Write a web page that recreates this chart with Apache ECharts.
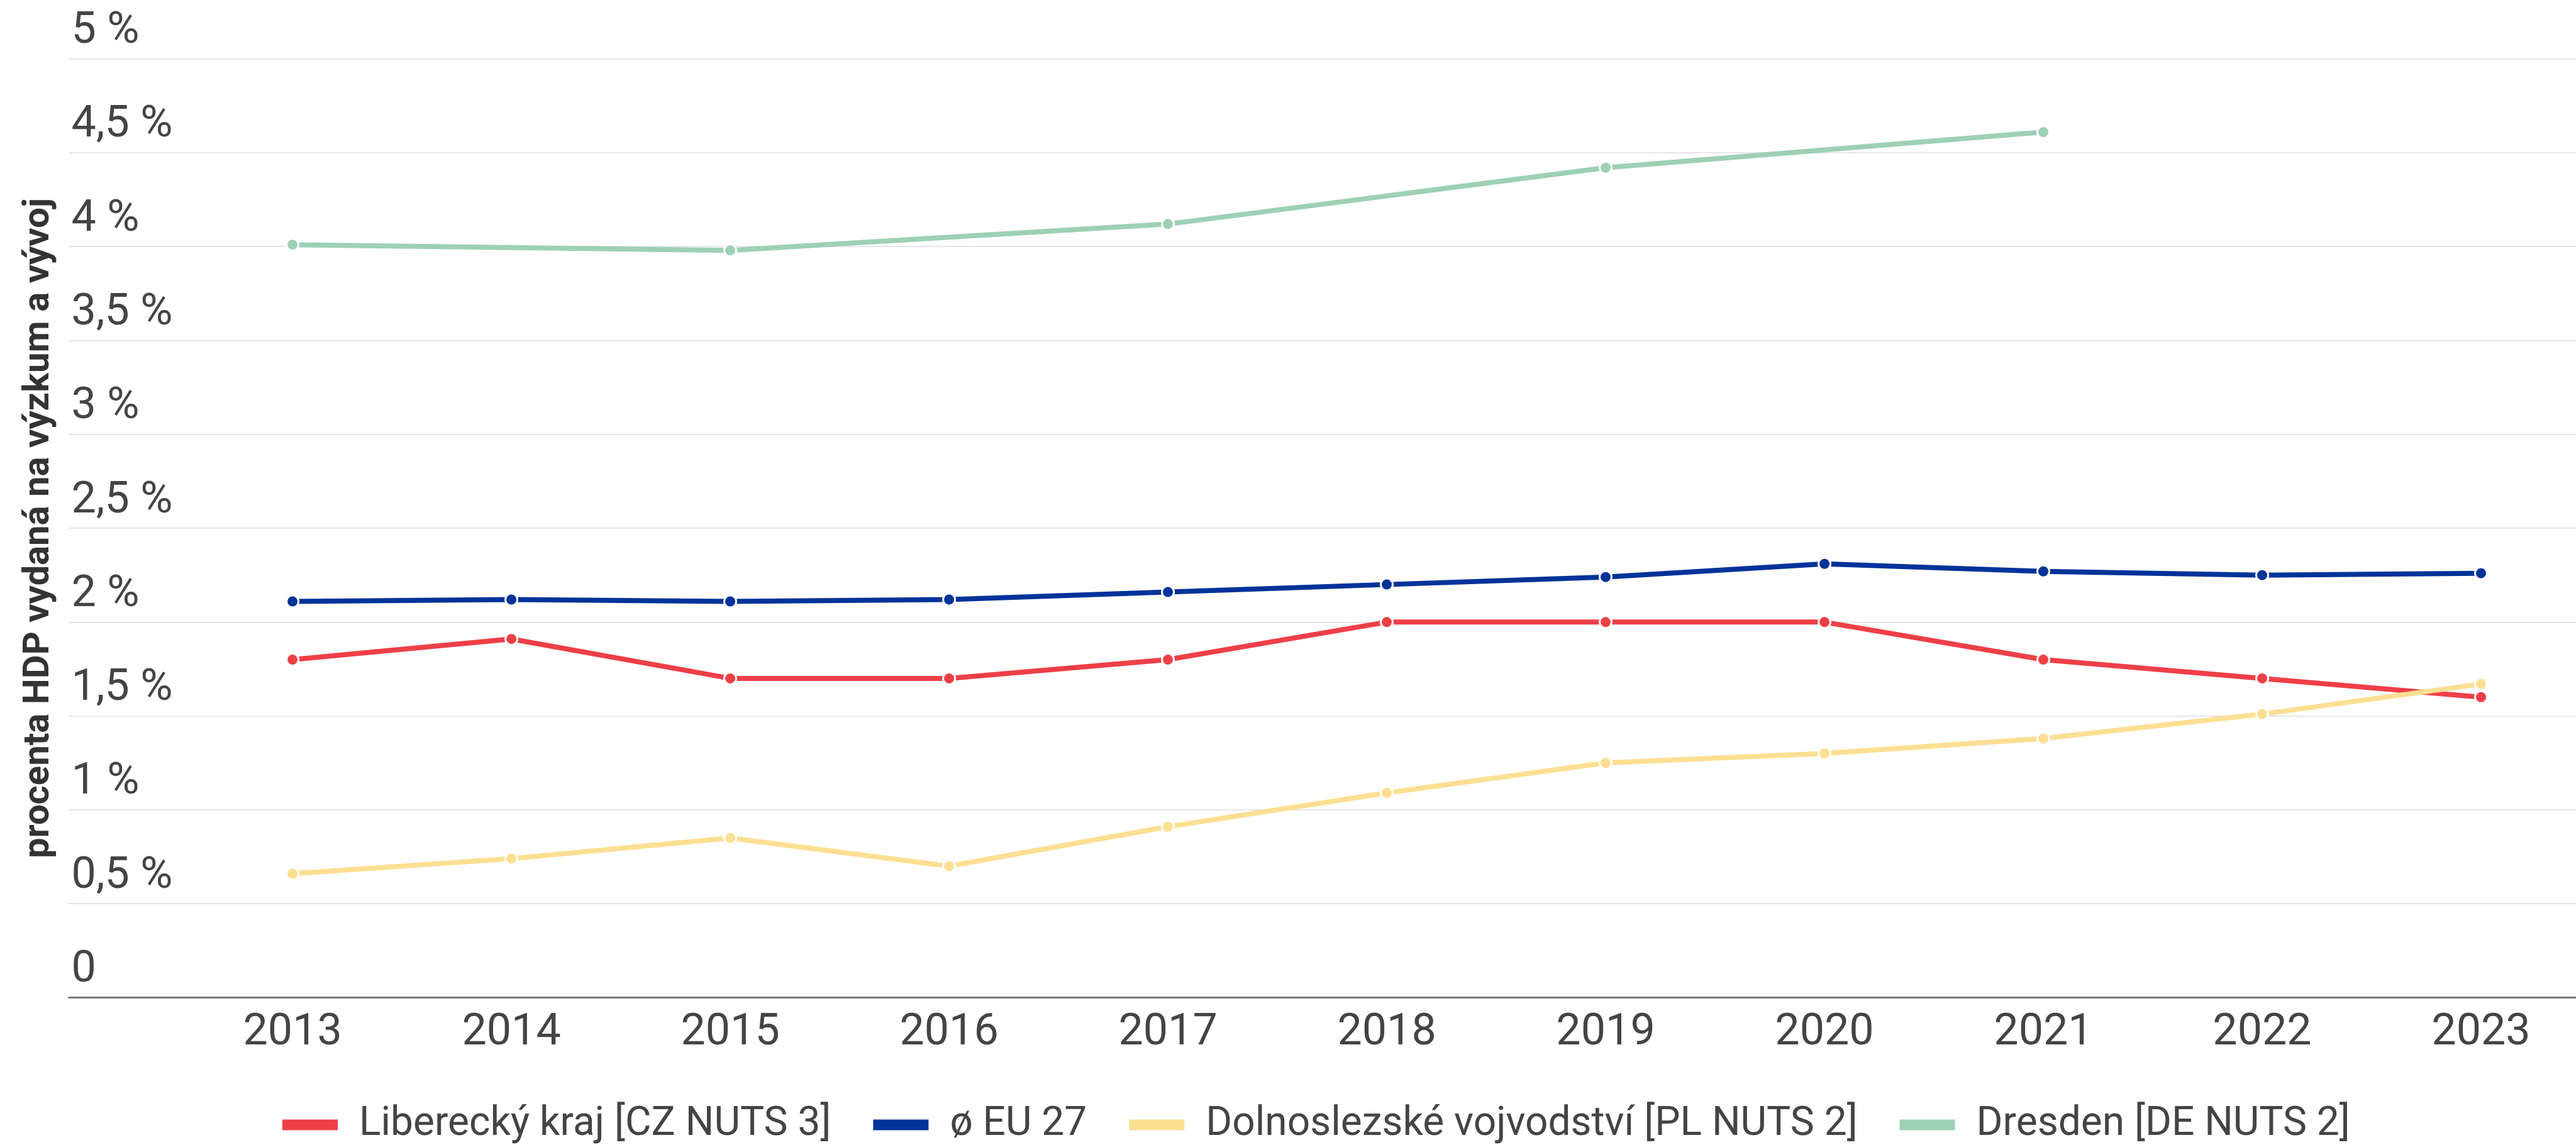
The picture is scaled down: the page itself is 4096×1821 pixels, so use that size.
<!DOCTYPE html>
<html><head><meta charset="utf-8">
<script src="https://cdn.jsdelivr.net/npm/echarts@6/dist/echarts.min.js"></script>
<style>html,body{margin:0;padding:0;background:#fff}#c{width:4096px;height:1821px}</style>
</head><body><div id="c"></div>
<script>
const years = [2013, 2014, 2015, 2016, 2017, 2018, 2019, 2020, 2021, 2022, 2023];
const liberecky = [1.80, 1.91, 1.70, 1.70, 1.80, 2.00, 2.00, 2.00, 1.80, 1.70, 1.60];
const eu27 = [2.11, 2.12, 2.11, 2.12, 2.16, 2.20, 2.24, 2.31, 2.27, 2.25, 2.26];
const dolnoslaskie = [0.66, 0.74, 0.85, 0.70, 0.91, 1.09, 1.25, 1.30, 1.38, 1.51, 1.67];
const dresden = [4.01, null, 3.98, null, 4.12, null, 4.42, null, 4.61, null, null];
const seriesNames = ['Liberecký kraj [CZ NUTS 3]', 'ø EU 27', 'Dolnoslezské vojvodství [PL NUTS 2]', 'Dresden [DE NUTS 2]'];
const seriesColors = ['#ee3f47', '#003399', '#fcdf92', '#9dd0b5'];
const yTickLabels = ['0', '0,5 %', '1 %', '1,5 %', '2 %', '2,5 %', '3 %', '3,5 %', '4 %', '4,5 %', '5 %'];
const yAxisTitle = 'procenta HDP vydaná na výzkum a vývoj';

const seriesValues = [liberecky, eu27, dolnoslaskie, dresden];
const chart = echarts.init(document.getElementById('c'));
const FONT = 'Roboto';

chart.setOption({
  animation: false,
  backgroundColor: '#ffffff',
  grid: { left: 109.5, right: 0, top: 93.6, bottom: 234.5, containLabel: false },
  legend: {
    data: seriesNames,
    left: 444, top: 1752,
    icon: 'rect',
    itemWidth: 88, itemHeight: 17, itemGap: 67,
    itemStyle: { borderWidth: 0 },
    textStyle: { fontFamily: FONT, fontSize: 64, color: '#444444', padding: [0, 0, 0, 29] }
  },
  xAxis: {
    type: 'value',
    min: 2011.978, max: 2023.434,
    axisLine: { show: true, lineStyle: { color: '#777777', width: 3 } },
    axisTick: { show: false },
    splitLine: { show: false },
    axisLabel: {
      customValues: years,
      formatter: v => String(v),
      fontFamily: FONT, fontSize: 70, color: '#444444', margin: 22
    }
  },
  yAxis: {
    type: 'value', min: 0, max: 5, interval: 0.5,
    name: yAxisTitle,
    nameLocation: 'middle', nameGap: 18,
    nameTextStyle: { fontFamily: FONT, fontSize: 58, fontWeight: 'bold', color: '#333333' },
    axisLine: { show: false },
    axisTick: { show: false },
    splitLine: { show: true, lineStyle: { color: '#e6e6e6', width: 2 } },
    axisLabel: {
      inside: true, margin: 4,
      verticalAlign: 'bottom', align: 'left',
      padding: [0, 0, 8, 0],
      formatter: v => yTickLabels[Math.round(v / 0.5)],
      fontFamily: FONT, fontSize: 70, color: '#444444'
    }
  },
  series: seriesNames.map((name, i) => ({
    name: name,
    type: 'line',
    data: years.map((y, j) => [y, seriesValues[i][j]]),
    connectNulls: true,
    symbol: 'circle', symbolSize: 19,
    showSymbol: true,
    lineStyle: { color: seriesColors[i], width: 8 },
    itemStyle: { color: seriesColors[i], borderColor: '#ffffff', borderWidth: 3 },
    emphasis: { disabled: true }
  }))
});
</script></body></html>
